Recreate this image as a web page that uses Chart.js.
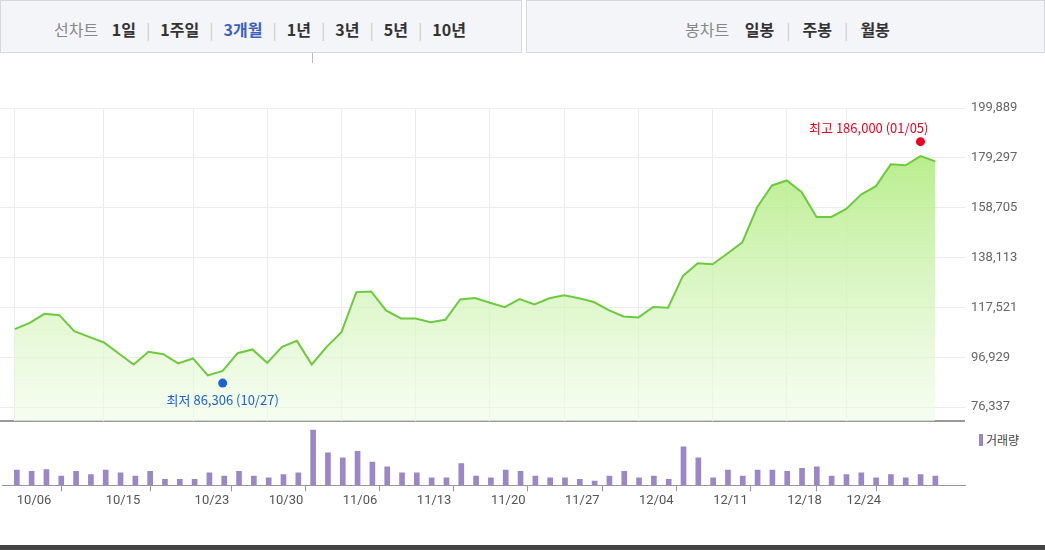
<!DOCTYPE html>
<html><head><meta charset="utf-8">
<script src="https://cdn.jsdelivr.net/npm/chart.js@4"></script>
<style>
body{margin:0;width:1045px;height:550px;background:#fff;font-family:"Noto Sans CJK KR","Noto Sans",sans-serif;position:relative;overflow:hidden}
.bar{position:absolute;top:0;height:53px;background:#f4f5f8;border:1px solid #d6d8de;box-sizing:border-box;display:flex;align-items:center;font-size:16px;font-weight:bold;color:#333;padding-top:4px}
.bar span{margin:0 6px}
#lb span{margin:0 5px}
.g{color:#888;font-weight:normal}
.sep{color:#ccc;font-weight:normal}
canvas{position:absolute;left:0}
</style></head><body>
<div class="bar" id="lb" style="left:0;width:522px;padding-left:48px"><span class="g">선차트</span>&nbsp;<span>1일</span><span class="sep">|</span><span>1주일</span><span class="sep">|</span><span style="color:#3b5fbf">3개월</span><span class="sep">|</span><span>1년</span><span class="sep">|</span><span>3년</span><span class="sep">|</span><span>5년</span><span class="sep">|</span><span>10년</span></div>
<div class="bar" style="left:526px;width:519px;padding-left:152px"><span class="g">봉차트</span>&nbsp;<span>일봉</span><span class="sep">|</span><span>주봉</span><span class="sep">|</span><span>월봉</span></div>
<div style="position:absolute;left:312px;top:53px;width:1px;height:10px;background:#bbb"></div>
<div style="position:absolute;left:0;top:420px;width:965px;height:2px;background:#999"></div>
<div style="position:absolute;left:979px;top:434px;width:4px;height:12px;background:#9b87c8"></div>
<div style="position:absolute;left:986px;top:431px;font-size:12px;color:#444">거래량</div>
<div style="position:absolute;left:0;top:545px;width:1045px;height:5px;background:#444"></div>
<canvas id="c1" style="top:60px" width="1045" height="375"></canvas>
<canvas id="c2" style="top:421px" width="1045" height="90"></canvas>
<script>
const dates=["10/06","10/07","10/08","10/12","10/13","10/14","10/15","10/16","10/19","10/20","10/21","10/22","10/23","10/26","10/27","10/28","10/29","10/30","11/02","11/03","11/04","11/05","11/06","11/09","11/10","11/11","11/12","11/13","11/16","11/17","11/18","11/19","11/20","11/23","11/24","11/25","11/26","11/27","11/30","12/01","12/02","12/03","12/04","12/07","12/08","12/09","12/10","12/11","12/14","12/15","12/16","12/17","12/18","12/21","12/22","12/23","12/24","12/28","12/29","12/30","01/04","01/05","01/06"];
const tickDates=["10/06","10/15","10/23","10/30","11/06","11/13","11/20","11/27","12/04","12/11","12/18","12/24"];
const prices=[108572,111175,114894,114357,107745,105389,103076,98530,93985,99191,98242,94398,96465,89440,91338,98655,100184,94646,101257,103737,93985,101257,107331,123860,124149,116298,112992,112992,111464,112414,120843,121381,119439,117662,120968,118777,121298,122538,121298,119770,116422,113819,113406,117703,117414,130554,135802,135389,139810,144397,158900,167907,169973,165139,154890,154890,158239,164147,167618,176626,176213,180056,177866];
const volumes=[45,41,46,27,41,32,45,37,27,41,18,18,18,37,27,41,27,22,32,37,162,95,81,100,68,54,37,37,22,22,64,27,22,45,41,27,22,22,18,13,27,41,22,27,18,113,81,22,45,27,45,45,41,50,54,27,32,37,22,32,22,32,27];
const yTicks=[76337,96929,117521,138113,158705,179297,199889];
const highInfo={label:"최고 186,000 (01/05)",date:"01/05",value:186000};
const lowInfo={label:"최저 86,306 (10/27)",date:"10/27",value:86306};

const tickIdx=tickDates.map(d=>dates.indexOf(d));
const xScale={type:'linear',offset:false,min:-1,max:64,afterBuildTicks:a=>{a.ticks=tickIdx.map(v=>({value:v}))}};
const fmt=v=>v.toLocaleString('en-US');

const marks={id:'marks',afterDatasetsDraw(ch){
  const {ctx,scales:{x,y}}=ch;
  [[highInfo,'#f00020','right',-14],[lowInfo,'#1a62d6','center',17]].forEach(([m,c,al,dy])=>{
    const px=x.getPixelForValue(dates.indexOf(m.date)),py=y.getPixelForValue(m.value);
    ctx.save();ctx.fillStyle=c;ctx.beginPath();ctx.arc(px,py,4.5,0,Math.PI*2);ctx.fill();
    ctx.font='13px "Noto Sans CJK KR"';ctx.textAlign=al;ctx.textBaseline='middle';
    ctx.fillText(m.label,al==='right'?px+8:px,py+dy);ctx.restore();
  });
}};

const c1=document.getElementById('c1');
const g=c1.getContext('2d').createLinearGradient(0,50,0,361);
g.addColorStop(0,'rgba(166,232,110,0.95)');g.addColorStop(1,'rgba(240,252,232,0.6)');
new Chart(c1,{type:'line',data:{datasets:[{data:prices.map((v,i)=>({x:i,y:v})),borderColor:'#6ccb3c',borderWidth:2,fill:'start',backgroundColor:g,pointRadius:0,tension:0}]},
options:{responsive:false,animation:false,layout:{padding:{top:48,left:0,right:0,bottom:0}},plugins:{legend:{display:false},tooltip:{enabled:false}},
scales:{x:{...xScale,display:true,ticks:{display:false},grid:{color:'#ececec',tickLength:0},border:{display:false}},
y:{position:'right',min:70557,max:199889,afterBuildTicks:a=>{a.ticks=yTicks.map(v=>({value:v}))},afterFit:a=>{a.width=80},
ticks:{callback:fmt,color:'#666',font:{size:13,family:'Roboto'},padding:6},grid:{color:'#ececec',tickLength:0},border:{display:false}}}},plugins:[marks]});

new Chart(document.getElementById('c2'),{type:'bar',data:{datasets:[{data:volumes.map((v,i)=>({x:i,y:v})),backgroundColor:'#9b87c8',barThickness:5}]},
options:{responsive:false,animation:false,layout:{padding:{top:8,right:80,left:2}},plugins:{legend:{display:false},tooltip:{enabled:false}},
scales:{x:{...xScale,ticks:{callback:v=>dates[v]||'',color:'#555',font:{size:13,family:'Roboto'},maxRotation:0,autoSkip:false,padding:2,align:'start'},grid:{drawOnChartArea:false,tickLength:6,color:'#999'},border:{color:'#999'}},
y:{display:false,min:0,max:165}}}});
</script></body></html>
